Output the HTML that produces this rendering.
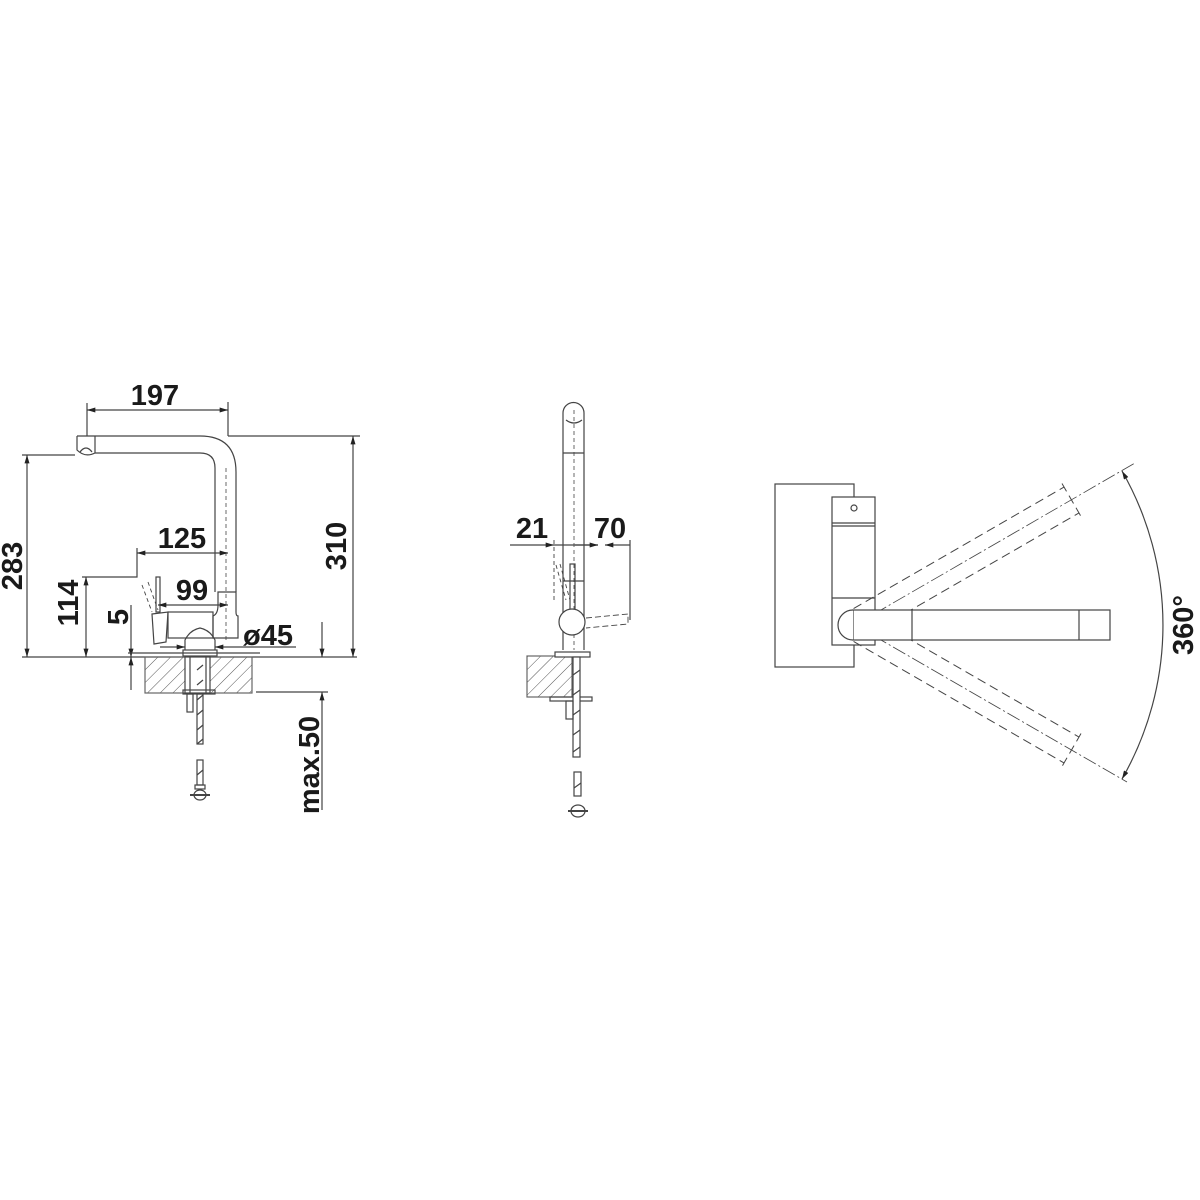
<!DOCTYPE html>
<html><head><meta charset="utf-8"><style>
html,body{margin:0;padding:0;background:#fff;}
svg{display:block}
text{font-family:"Liberation Sans",Arial,sans-serif;font-weight:bold;fill:#1a1a1a}
</style></head><body>
<svg width="1200" height="1200" viewBox="0 0 1200 1200" xmlns="http://www.w3.org/2000/svg">
<defs>
<pattern id="h" width="9" height="9" patternUnits="userSpaceOnUse" patternTransform="rotate(45)">
<line x1="0" y1="0" x2="0" y2="9" stroke="#555" stroke-width="1"/></pattern>
<marker id="a" viewBox="0 0 10 6" refX="10" refY="3" markerWidth="12" markerHeight="5" orient="auto-start-reverse" markerUnits="userSpaceOnUse">
<path d="M0,0 L10,3 L0,6 z" fill="#222"/></marker>
</defs>
<g fill="none" stroke="#444" stroke-width="1.2">
<!-- ===== LEFT VIEW ===== -->
<line x1="87" y1="403" x2="87" y2="436"/>
<line x1="228" y1="402" x2="228" y2="436"/>
<line x1="87" y1="410" x2="228" y2="410" marker-start="url(#a)" marker-end="url(#a)"/>
<path d="M77,436 H200 Q236,436 236,472 V592"/>
<path d="M95,453 H200 Q215,453 215,468 V592"/>
<path d="M77,436 V450 Q85,458 95,453"/>
<path d="M80,452 Q86,444 92,452" />
<line x1="95" y1="436" x2="95" y2="453"/>
<line x1="226" y1="468" x2="226" y2="640" stroke-dasharray="4 3" stroke-width="0.8"/>
<path d="M218,592 H236 V612 Q236,616 238,616 V638 H213 V616 Q218,614 218,605 Z"/>
<rect x="168" y="612" width="45" height="26"/>
<path d="M185,650 V640 Q190,630 200,628 Q210,630 215,640 V650"/>
<rect x="183" y="650" width="34" height="6"/>
<rect x="156" y="577" width="4" height="35"/>
<path d="M152,614 L168,612 L166,642 L154,644 Z"/>
<path d="M142,585 L152,612 M148,582 L158,610" stroke-dasharray="4 3" stroke-width="0.9"/>
<line x1="228" y1="436" x2="360" y2="436"/>
<line x1="353" y1="436" x2="353" y2="657" marker-start="url(#a)" marker-end="url(#a)"/>
<line x1="22" y1="657" x2="357" y2="657"/>
<line x1="22" y1="455" x2="75" y2="455"/>
<line x1="27" y1="455" x2="27" y2="657" marker-start="url(#a)" marker-end="url(#a)"/>
<path d="M82,577 H137 V548"/>
<line x1="86" y1="577" x2="86" y2="657" marker-start="url(#a)" marker-end="url(#a)"/>
<line x1="137" y1="553" x2="228" y2="553" marker-start="url(#a)" marker-end="url(#a)"/>
<line x1="158" y1="605" x2="228" y2="605" marker-start="url(#a)" marker-end="url(#a)"/>
<line x1="131" y1="605" x2="131" y2="657" marker-end="url(#a)"/>
<line x1="131" y1="690" x2="131" y2="657" marker-end="url(#a)"/>
<line x1="128" y1="653" x2="260" y2="653"/>
<line x1="160" y1="647" x2="185" y2="647" marker-end="url(#a)"/>
<line x1="296" y1="647" x2="215" y2="647" marker-end="url(#a)"/>
<rect x="145" y="657" width="107" height="36" fill="url(#h)" stroke="#666"/>
<rect x="185" y="657" width="25" height="36" fill="#fff"/>
<line x1="190" y1="657" x2="190" y2="693"/><line x1="206" y1="657" x2="206" y2="693"/>
<rect x="183" y="690" width="32" height="4"/>
<rect x="187" y="694" width="6" height="18"/>
<rect x="197" y="694" width="6" height="50" />
<path d="M197,700 l6,-5 M197,715 l6,-5 M197,730 l6,-5 M197,744 l6,-5 M197,670 l6,-5 M197,685 l6,-5"/>
<rect x="197" y="760" width="6" height="25"/>
<path d="M197,775 l6,-5"/>
<rect x="195" y="785" width="10" height="4"/>
<ellipse cx="200" cy="795" rx="6" ry="5"/>
<line x1="190" y1="795" x2="210" y2="795" stroke-width="2"/>
<line x1="256" y1="692" x2="328" y2="692"/>
<line x1="322" y1="622" x2="322" y2="657" marker-end="url(#a)"/>
<line x1="322" y1="810" x2="322" y2="692" marker-end="url(#a)"/>

<!-- ===== MIDDLE VIEW ===== -->
<path d="M563,650 V413 A10.5,10.5 0 0 1 584,413 V650"/>
<path d="M566,420 Q574,426 582,420" />
<line x1="563" y1="453" x2="584" y2="453"/>
<line x1="574" y1="410" x2="574" y2="650" stroke-dasharray="4 3" stroke-width="0.8"/>
<rect x="570" y="564" width="5" height="50"/>
<line x1="563" y1="581" x2="584" y2="581"/>
<path d="M556,565 L566,600 M560,564 L570,600" stroke-dasharray="4 3" stroke-width="0.9"/>
<circle cx="572" cy="622" r="13" fill="#fff"/>
<path d="M586,618 L628,614 L628,624 L586,628" stroke-dasharray="6 3" stroke-width="0.9"/>
<line x1="630" y1="540" x2="630" y2="620"/>
<line x1="554" y1="540" x2="554" y2="600" stroke-dasharray="4 3" stroke-width="0.9"/>
<line x1="510" y1="545" x2="554" y2="545" marker-end="url(#a)"/>
<line x1="554" y1="545" x2="598" y2="545" />
<line x1="575" y1="545" x2="598" y2="545" marker-end="url(#a)"/>
<line x1="605" y1="545" x2="630" y2="545" marker-start="url(#a)"/>
<rect x="527" y="656" width="45" height="41" fill="url(#h)" stroke="#666"/>
<rect x="555" y="652" width="35" height="5" fill="#fff"/>
<rect x="550" y="697" width="42" height="4"/>
<rect x="573" y="657" width="7" height="100" fill="#fff"/>
<path d="M573,675 l7,-5 M573,695 l7,-5 M573,715 l7,-5 M573,735 l7,-5 M573,752 l7,-5"/>
<rect x="566" y="701" width="7" height="18"/>
<rect x="574" y="772" width="7" height="24"/>
<path d="M574,788 l7,-5"/>
<ellipse cx="578" cy="811" rx="7" ry="6"/>
<line x1="568" y1="811" x2="588" y2="811" stroke-width="2"/>

<!-- ===== RIGHT VIEW ===== -->
<rect x="775" y="484" width="79" height="183"/>
<rect x="832" y="497" width="43" height="148" fill="#fff"/>
<line x1="832" y1="523" x2="875" y2="523"/><line x1="832" y1="526" x2="875" y2="526"/>
<line x1="832" y1="598" x2="875" y2="598"/>
<circle cx="854" cy="508" r="3"/>
<g stroke-dasharray="9 5" stroke-width="1">
<g transform="rotate(-30 855 625)">
<line x1="862" y1="610" x2="1105" y2="610"/><line x1="862" y1="640" x2="1105" y2="640"/>
<line x1="1105" y1="606" x2="1105" y2="644"/>
</g>
<g transform="rotate(30 855 625)">
<line x1="862" y1="610" x2="1105" y2="610"/><line x1="862" y1="640" x2="1105" y2="640"/>
<line x1="1105" y1="606" x2="1105" y2="644"/>
</g>
</g>
<g stroke-dasharray="14 3 2 3" stroke-width="0.8">
<line x1="855" y1="625" x2="1135" y2="463"/>
<line x1="855" y1="625" x2="1127" y2="782"/>
</g>
<rect x="853" y="610" width="257" height="30" fill="#fff"/>
<line x1="912" y1="610" x2="912" y2="640"/><line x1="1079" y1="610" x2="1079" y2="640"/>
<path d="M853,610 A15,15 0 0 0 853,640" fill="#fff"/>
<path d="M1122,471 A310,310 0 0 1 1122,779" marker-start="url(#a)" marker-end="url(#a)"/>
</g>
<text x="155" y="405" font-size="29" text-anchor="middle">197</text>
<text x="182" y="548" font-size="29" text-anchor="middle">125</text>
<text x="192" y="600" font-size="29" text-anchor="middle">99</text>
<text x="268" y="645" font-size="29" text-anchor="middle">ø45</text>
<text transform="translate(22,566) rotate(-90)" font-size="29" text-anchor="middle">283</text>
<text transform="translate(78,603) rotate(-90)" font-size="29" text-anchor="middle">114</text>
<text transform="translate(128,617) rotate(-90)" font-size="29" text-anchor="middle">5</text>
<text transform="translate(346,546) rotate(-90)" font-size="29" text-anchor="middle">310</text>
<text transform="translate(319,765) rotate(-90)" font-size="29" text-anchor="middle">max.50</text>
<text x="532" y="538" font-size="29" text-anchor="middle">21</text>
<text x="610" y="538" font-size="29" text-anchor="middle">70</text>
<text transform="translate(1193,625) rotate(-90)" font-size="29" text-anchor="middle">360°</text>
</svg>
</body></html>
